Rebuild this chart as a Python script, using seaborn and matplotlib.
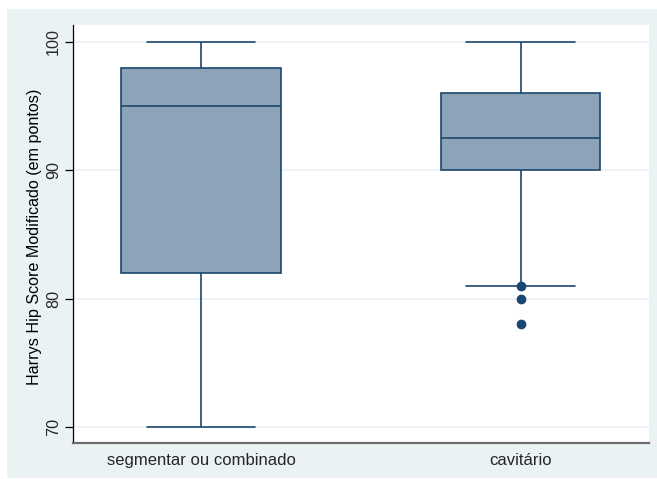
import numpy as np
import pandas as pd
import matplotlib
matplotlib.use("Agg")
import matplotlib.pyplot as plt
from matplotlib.patches import Rectangle
import seaborn as sns

# Harris Hip Score (modified), by type of defect
groups = ["segmentar ou combinado", "cavitário"]
scores_segmentar = [70, 78, 82, 88, 95, 96, 98, 100, 100]
scores_cavitario = [78, 80, 80.95, 81, 90, 90, 90, 91, 92.5, 94, 95, 96, 96, 98,
                    100, 100, 100]
y_ticks = [70, 80, 90, 100]
y_label = "Harrys Hip Score Modificado (em pontos)"

df = pd.DataFrame({
    "grupo": [groups[0]] * len(scores_segmentar) + [groups[1]] * len(scores_cavitario),
    "score": scores_segmentar + scores_cavitario,
})

navy = "#1A476F"
fill = "#8DA3B7"
band = "#EAF2F3"
box_width = 0.5
cap_width = 0.34

sns.set_style("white")
plt.rcParams["font.family"] = ["Liberation Sans", "DejaVu Sans"]

fig = plt.figure(figsize=(6.57, 4.79), dpi=100)
fig.patch.set_facecolor("white")
fig.add_artist(Rectangle((7 / 657, 1 / 479), 650 / 657, 469 / 479,
                         transform=fig.transFigure, facecolor=band,
                         edgecolor="none", zorder=-10))
ax = fig.add_axes([73 / 657, 1 - 443 / 479, 576 / 657, 418 / 479])
ax.set_zorder(1)
ax.set_facecolor("white")

sns.boxplot(data=df, x="grupo", y="score", order=groups, ax=ax,
            width=box_width, color=fill, saturation=1, linewidth=1.2,
            boxprops=dict(facecolor=fill, edgecolor=navy, zorder=3),
            medianprops=dict(color=navy, linewidth=1.2, zorder=4),
            whiskerprops=dict(color=navy, linewidth=1.2, zorder=3),
            capprops=dict(color=navy, linewidth=1.2, zorder=3),
            flierprops=dict(marker="o", markerfacecolor=navy,
                            markeredgecolor=navy, markersize=6, zorder=4))

# widen the whisker caps
for ln in ax.lines:
    xd = np.asarray(ln.get_xdata(), dtype=float)
    yd = np.asarray(ln.get_ydata(), dtype=float)
    if len(xd) == 2 and yd[0] == yd[1]:
        span = abs(xd[1] - xd[0])
        if 0 < span < box_width * 0.9:
            c = xd.mean()
            ln.set_xdata([c - cap_width / 2, c + cap_width / 2])

ax.set_xlim(-0.4006, 1.402)
ax.set_ylim(68.75, 101.32)
ax.set_yticks(y_ticks)
ax.set_yticklabels([str(v) for v in y_ticks])
ax.yaxis.grid(True, color=band, linewidth=1.2, zorder=0)
ax.set_axisbelow(True)

ax.set_xlabel("")
ax.set_ylabel(y_label, fontsize=11.6, color="black")
ax.yaxis.set_label_coords(-0.054, 0.494)
ax.tick_params(axis="y", direction="out", length=5.5, width=0.9, color="black",
               labelsize=11.6, labelrotation=90, pad=3, left=True)
for lab in ax.get_yticklabels():
    lab.set_va("center")
ax.tick_params(axis="x", length=0, labelsize=12, pad=7)

for side in ["top", "right"]:
    ax.spines[side].set_visible(False)
ax.spines["left"].set_color("black")
ax.spines["left"].set_linewidth(0.9)
ax.spines["bottom"].set_color("#6E6E6E")
ax.spines["bottom"].set_linewidth(1.6)

fig.savefig("out.png", dpi=100, facecolor="white")
